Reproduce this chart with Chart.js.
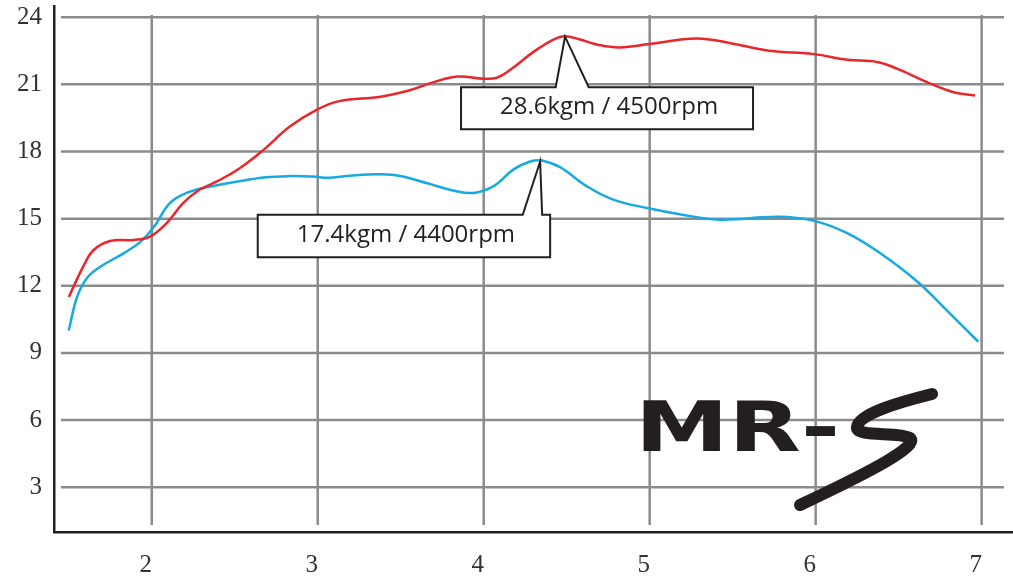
<!DOCTYPE html>
<html>
<head>
<meta charset="utf-8">
<script src="https://cdn.jsdelivr.net/npm/chart.js@4"></script>
<style>
    html, body { margin: 0; padding: 0; background: #ffffff; }
    #box { width: 1013px; height: 577px; position: relative; }
</style>
</head>
<body>
<div id="box"><canvas id="grafico"></canvas></div>
<script>
// eixo x em 1000 rpm, eixo y em kgm
var xTicks = [2, 3, 4, 5, 6, 7]
var yTicks = [3, 6, 9, 12, 15, 18, 21, 24]

var rpmVermelho = [1.50, 1.59, 1.65, 1.75, 1.89, 1.99, 2.09, 2.19, 2.29, 2.39, 2.53, 2.67, 2.83, 2.99, 3.13, 3.38, 3.56, 3.70, 3.84, 4.00, 4.08, 4.16, 4.30, 4.42, 4.49, 4.58, 4.70, 4.82, 5.00, 5.28, 5.48, 5.72, 5.99, 6.19, 6.37, 6.49, 6.67, 6.83, 6.96]
var torqueVermelho = [11.5, 12.9, 13.6, 14.0, 14.05, 14.2, 14.8, 15.7, 16.3, 16.65, 17.25, 18.05, 19.1, 19.85, 20.25, 20.45, 20.75, 21.1, 21.35, 21.25, 21.3, 21.65, 22.45, 23.0, 23.15, 23.0, 22.75, 22.65, 22.8, 23.05, 22.85, 22.5, 22.35, 22.1, 22.0, 21.7, 21.1, 20.65, 20.5]

var rpmAzul = [1.50, 1.55, 1.61, 1.69, 1.83, 1.93, 2.01, 2.11, 2.21, 2.33, 2.51, 2.69, 2.83, 2.97, 3.07, 3.25, 3.46, 3.66, 3.82, 3.94, 4.06, 4.18, 4.28, 4.35, 4.46, 4.62, 4.78, 5.00, 5.18, 5.42, 5.77, 5.99, 6.19, 6.39, 6.61, 6.79, 6.98]
var torqueAzul = [10.0, 11.5, 12.35, 12.85, 13.45, 13.95, 14.6, 15.7, 16.15, 16.4, 16.65, 16.85, 16.9, 16.88, 16.83, 16.95, 16.95, 16.58, 16.25, 16.15, 16.45, 17.2, 17.55, 17.6, 17.3, 16.45, 15.85, 15.45, 15.2, 14.95, 15.08, 14.9, 14.35, 13.45, 12.2, 10.9, 9.5]

var picoX = [4.49, 4.34]
var picoY = [23.13, 17.55]
var picoTexto = ['28.6kgm / 4500rpm', '17.4kgm / 4400rpm']

var corTexto = '#231f20'

function pontos(xs, ys) {
    var lista = []
    for (let i = 0; i < xs.length; i++) {
        lista.push({ x: xs[i], y: ys[i] })
    }
    return lista
}

// grade com folga nas pontas, igual ao desenho original
var pluginGrade = {
    id: 'grade',
    beforeDatasetsDraw(chart) {
        var ctx = chart.ctx
        var area = chart.chartArea
        var sx = chart.scales.x
        var sy = chart.scales.y
        ctx.save()
        ctx.strokeStyle = '#8b8b8d'
        ctx.lineWidth = 2.5
        for (let i = 0; i < yTicks.length; i++) {
            var py = sy.getPixelForValue(yTicks[i])
            ctx.beginPath()
            ctx.moveTo(area.left + 7, py)
            ctx.lineTo(area.right - 9, py)
            ctx.stroke()
        }
        for (let i = 0; i < xTicks.length; i++) {
            var px = sx.getPixelForValue(xTicks[i])
            ctx.beginPath()
            ctx.moveTo(px, area.top + 9)
            ctx.lineTo(px, area.bottom - 7)
            ctx.stroke()
        }
        ctx.restore()
    }
}

// caixas com a seta apontando para o pico
var caixas = [
    { esq: -104, dir: 188, topo: 50.6, base: 92.6, p1: -9.3, p2: 23.7 },
    { esq: -282.4, dir: 10, topo: 53.3, base: 95.6, p1: -17.4, p2: 2 }
]

var pluginCaixas = {
    id: 'caixas',
    afterDatasetsDraw(chart) {
        var ctx = chart.ctx
        ctx.save()
        for (let i = 0; i < picoTexto.length; i++) {
            var tx = chart.scales.x.getPixelForValue(picoX[i])
            var ty = chart.scales.y.getPixelForValue(picoY[i])
            var c = caixas[i]
            ctx.beginPath()
            ctx.moveTo(tx + c.esq, ty + c.topo)
            ctx.lineTo(tx + c.p1, ty + c.topo)
            ctx.lineTo(tx, ty)
            ctx.lineTo(tx + c.p2, ty + c.topo)
            ctx.lineTo(tx + c.dir, ty + c.topo)
            ctx.lineTo(tx + c.dir, ty + c.base)
            ctx.lineTo(tx + c.esq, ty + c.base)
            ctx.closePath()
            ctx.fillStyle = '#ffffff'
            ctx.fill()
            ctx.strokeStyle = corTexto
            ctx.lineWidth = 2
            ctx.lineJoin = 'miter'
            ctx.stroke()

            ctx.fillStyle = corTexto
            ctx.font = '24px "Open Sans"'
            ctx.textAlign = 'center'
            ctx.textBaseline = 'middle'
            ctx.fillText(picoTexto[i], tx + (c.esq + c.dir) / 2 + 2, ty + (c.topo + c.base) / 2 - 1)
        }
        ctx.restore()
    }
}

// logo MR-S
var pluginLogo = {
    id: 'logo',
    afterDatasetsDraw(chart) {
        var ctx = chart.ctx
        ctx.save()
        ctx.fillStyle = corTexto
        ctx.font = 'bold 70px "DejaVu Sans"'
        ctx.textAlign = 'left'
        ctx.textBaseline = 'alphabetic'
        var larg = ctx.measureText('MR-').width
        ctx.translate(635, 451)
        ctx.scale(205 / larg, 1)
        ctx.fillText('MR-', 0, 0)
        ctx.restore()

        ctx.save()
        ctx.strokeStyle = corTexto
        ctx.lineCap = 'round'
        ctx.lineJoin = 'round'
        ctx.lineWidth = 12
        ctx.beginPath()
        ctx.moveTo(932, 394)
        ctx.bezierCurveTo(900, 402, 858, 414, 857, 427)
        ctx.bezierCurveTo(856, 438, 898, 431, 910, 438)
        ctx.bezierCurveTo(920, 446, 870, 472, 800, 505)
        ctx.stroke()
        ctx.restore()
    }
}

var fonteEixo = { family: '"Liberation Serif", serif', size: 25 }

var grafico = new Chart(document.getElementById('grafico'), {
    type: 'line',
    data: {
        datasets: [{
            label: 'torque',
            data: pontos(rpmVermelho, torqueVermelho),
            borderColor: '#e8262b',
            borderWidth: 2.5,
            pointRadius: 0,
            tension: 0.4,
            fill: false
        }, {
            label: 'potencia',
            data: pontos(rpmAzul, torqueAzul),
            borderColor: '#17a9e1',
            borderWidth: 2.5,
            pointRadius: 0,
            tension: 0.4,
            fill: false
        }]
    },
    options: {
        responsive: true,
        maintainAspectRatio: false,
        animation: false,
        layout: { padding: { top: 6, right: 0, left: 0, bottom: 0 } },
        plugins: {
            legend: { display: false },
            tooltip: { enabled: false },
            title: { display: false }
        },
        scales: {
            x: {
                type: 'linear',
                min: 1.411,
                max: 7.189,
                afterBuildTicks: (s) => { s.ticks = xTicks.map(v => ({ value: v })) },
                afterFit: (s) => { s.height = 45; s.paddingLeft = 0; s.paddingRight = 0 },
                grid: { display: false, drawTicks: false },
                border: { display: true, color: corTexto, width: 2.5 },
                ticks: { color: '#333333', font: fonteEixo, padding: 18, labelOffset: -6, maxRotation: 0, autoSkip: false }
            },
            y: {
                min: 1.0,
                max: 24.5,
                afterBuildTicks: (s) => { s.ticks = yTicks.map(v => ({ value: v })) },
                afterFit: (s) => { s.width = 54; s.paddingTop = 0; s.paddingBottom = 0 },
                grid: { display: false, drawTicks: false },
                border: { display: true, color: corTexto, width: 2.5 },
                ticks: { color: '#333333', font: fonteEixo, padding: 12 }
            }
        }
    },
    plugins: [pluginGrade, pluginCaixas, pluginLogo]
})
</script>
</body>
</html>
